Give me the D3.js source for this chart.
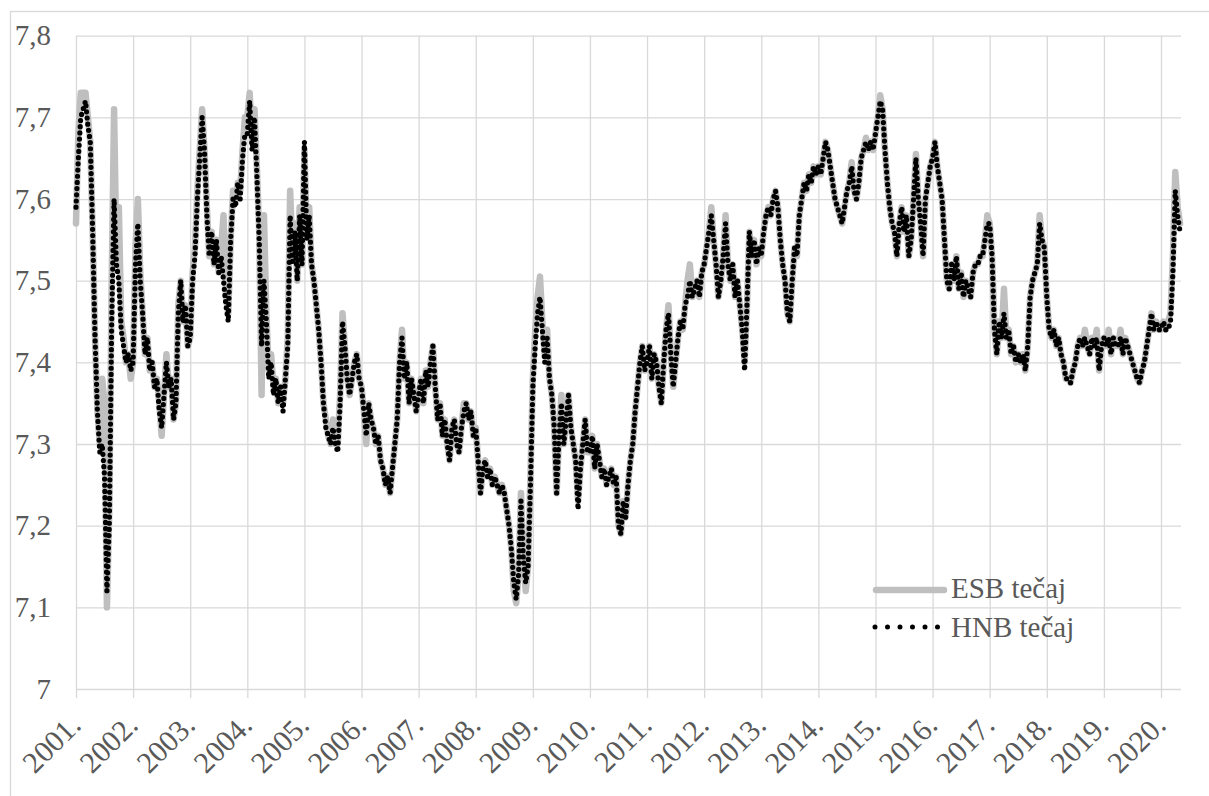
<!DOCTYPE html>
<html>
<head>
<meta charset="utf-8">
<script src="https://cdn.jsdelivr.net/npm/d3@7"></script>
<style>
  body { margin: 0; background: #fff; }
  svg { display: block; }
  text { font-family: "Liberation Serif", "Times New Roman", serif; fill: #595959; }
</style>
</head>
<body>
<svg id="chart" width="1209" height="796"></svg>
<script>
// Semi-monthly EUR/HRK observations, 24 per year starting January 2001.
const startYear = 2001;
const pointsPerYear = 24;

const yearLabels = ["2001.", "2002.", "2003.", "2004.", "2005.", "2006.", "2007.", "2008.", "2009.", "2010.",
                    "2011.", "2012.", "2013.", "2014.", "2015.", "2016.", "2017.", "2018.", "2019.", "2020."];
const yTicks = [7, 7.1, 7.2, 7.3, 7.4, 7.5, 7.6, 7.7, 7.8];
const seriesNames = ["ESB tečaj", "HNB tečaj"];

const esbRate = [
  // 2001
  7.57, 7.68, 7.73, 7.73, 7.73, 7.70, 7.67, 7.56, 7.43, 7.34, 7.30, 7.38, 7.35, 7.10, 7.22, 7.50, 7.71, 7.53, 7.59, 7.45, 7.43, 7.40, 7.41, 7.38,
  // 2002
  7.40, 7.54, 7.60, 7.51, 7.46, 7.41, 7.43, 7.39, 7.40, 7.37, 7.38, 7.35, 7.31, 7.36, 7.41, 7.37, 7.38, 7.33, 7.35, 7.47, 7.50, 7.45, 7.47, 7.42,
  // 2003
  7.43, 7.51, 7.54, 7.61, 7.66, 7.71, 7.66, 7.59, 7.53, 7.56, 7.52, 7.55, 7.51, 7.54, 7.58, 7.48, 7.46, 7.55, 7.61, 7.60, 7.62, 7.61, 7.66, 7.70,
  // 2004
  7.70, 7.73, 7.67, 7.71, 7.64, 7.56, 7.36, 7.58, 7.46, 7.39, 7.41, 7.37, 7.38, 7.35, 7.37, 7.35, 7.38, 7.43, 7.61, 7.53, 7.57, 7.50, 7.59, 7.52,
  // 2005
  7.66, 7.56, 7.59, 7.52, 7.50, 7.47, 7.44, 7.40, 7.35, 7.33, 7.31, 7.30, 7.33, 7.30, 7.30, 7.36, 7.46, 7.42, 7.38, 7.36, 7.38, 7.40, 7.41, 7.38,
  // 2006
  7.37, 7.34, 7.30, 7.35, 7.33, 7.32, 7.30, 7.31, 7.28, 7.27, 7.25, 7.26, 7.24, 7.27, 7.30, 7.33, 7.40, 7.44, 7.38, 7.40, 7.35, 7.38, 7.36, 7.34,
  // 2007
  7.36, 7.38, 7.35, 7.39, 7.37, 7.40, 7.42, 7.37, 7.33, 7.35, 7.31, 7.33, 7.30, 7.28, 7.32, 7.33, 7.30, 7.29, 7.32, 7.35, 7.35, 7.33, 7.34, 7.31,
  // 2008
  7.32, 7.28, 7.24, 7.27, 7.28, 7.26, 7.27, 7.25, 7.26, 7.25, 7.24, 7.25, 7.24, 7.22, 7.20, 7.17, 7.12, 7.105, 7.14, 7.24, 7.16, 7.12, 7.15, 7.26,
  // 2009
  7.38, 7.44, 7.48, 7.505, 7.45, 7.41, 7.44, 7.38, 7.36, 7.32, 7.24, 7.31, 7.36, 7.30, 7.33, 7.36, 7.32, 7.30, 7.28, 7.23, 7.27, 7.30, 7.33, 7.29,
  // 2010
  7.29, 7.31, 7.27, 7.30, 7.28, 7.26, 7.27, 7.25, 7.26, 7.27, 7.25, 7.26, 7.20, 7.19, 7.23, 7.21, 7.25, 7.28, 7.30, 7.34, 7.37, 7.40, 7.42, 7.39,
  // 2011
  7.40, 7.42, 7.38, 7.41, 7.40, 7.37, 7.35, 7.40, 7.44, 7.47, 7.41, 7.37, 7.40, 7.43, 7.45, 7.44, 7.47, 7.50, 7.52, 7.48, 7.49, 7.50, 7.48, 7.51,
  // 2012
  7.52, 7.54, 7.56, 7.59, 7.55, 7.52, 7.48, 7.50, 7.53, 7.58, 7.52, 7.50, 7.52, 7.48, 7.50, 7.47, 7.44, 7.40, 7.47, 7.56, 7.53, 7.55, 7.52, 7.54,
  // 2013
  7.53, 7.56, 7.58, 7.59, 7.58, 7.60, 7.61, 7.59, 7.55, 7.52, 7.50, 7.46, 7.45, 7.50, 7.54, 7.53, 7.58, 7.60, 7.62, 7.61, 7.63, 7.62, 7.64, 7.63,
  // 2014
  7.64, 7.63, 7.65, 7.67, 7.66, 7.64, 7.62, 7.60, 7.59, 7.58, 7.57, 7.59, 7.61, 7.62, 7.645, 7.61, 7.60, 7.62, 7.65, 7.66, 7.675, 7.66, 7.67, 7.66,
  // 2015
  7.68, 7.70, 7.727, 7.71, 7.66, 7.62, 7.59, 7.57, 7.56, 7.53, 7.57, 7.59, 7.56, 7.58, 7.53, 7.55, 7.60, 7.655, 7.60, 7.57, 7.53, 7.60, 7.62, 7.64,
  // 2016
  7.65, 7.67, 7.64, 7.62, 7.60, 7.55, 7.50, 7.49, 7.52, 7.50, 7.53, 7.49, 7.51, 7.48, 7.50, 7.49, 7.48, 7.51, 7.52, 7.52, 7.53, 7.53, 7.55, 7.58,
  // 2017
  7.57, 7.53, 7.44, 7.41, 7.45, 7.43, 7.49, 7.43, 7.44, 7.41, 7.42, 7.40, 7.41, 7.40, 7.41, 7.39, 7.42, 7.48, 7.50, 7.51, 7.52, 7.58, 7.55, 7.54,
  // 2018
  7.48, 7.44, 7.43, 7.44, 7.42, 7.43, 7.41, 7.40, 7.38, 7.38, 7.375, 7.39, 7.40, 7.42, 7.43, 7.42, 7.44, 7.42, 7.41, 7.43, 7.42, 7.44, 7.39, 7.42,
  // 2019
  7.43, 7.42, 7.44, 7.41, 7.43, 7.42, 7.42, 7.44, 7.41, 7.43, 7.42, 7.41, 7.40, 7.39, 7.38, 7.375, 7.39, 7.40, 7.42, 7.44, 7.46, 7.44, 7.45, 7.44,
  // 2020
  7.44, 7.45, 7.44, 7.45, 7.46, 7.53, 7.633, 7.59, 7.57
];

const hnbRate = [
  // 2001
  7.59, 7.65, 7.70, 7.71, 7.72, 7.69, 7.67, 7.56, 7.43, 7.34, 7.29, 7.30, 7.26, 7.12, 7.20, 7.45, 7.60, 7.52, 7.50, 7.44, 7.42, 7.40, 7.41, 7.39,
  // 2002
  7.40, 7.52, 7.57, 7.50, 7.46, 7.41, 7.43, 7.39, 7.40, 7.37, 7.38, 7.34, 7.32, 7.36, 7.40, 7.37, 7.38, 7.33, 7.35, 7.46, 7.50, 7.45, 7.47, 7.42,
  // 2003
  7.43, 7.50, 7.53, 7.60, 7.65, 7.70, 7.66, 7.58, 7.53, 7.56, 7.52, 7.55, 7.51, 7.53, 7.50, 7.47, 7.45, 7.55, 7.60, 7.59, 7.62, 7.60, 7.65, 7.68,
  // 2004
  7.68, 7.72, 7.66, 7.70, 7.63, 7.55, 7.42, 7.50, 7.45, 7.38, 7.40, 7.36, 7.38, 7.35, 7.37, 7.34, 7.38, 7.42, 7.58, 7.52, 7.56, 7.50, 7.58, 7.52,
  // 2005
  7.67, 7.55, 7.58, 7.52, 7.50, 7.47, 7.44, 7.40, 7.35, 7.32, 7.31, 7.30, 7.32, 7.30, 7.29, 7.35, 7.45, 7.42, 7.38, 7.36, 7.38, 7.40, 7.41, 7.38,
  // 2006
  7.37, 7.34, 7.31, 7.35, 7.33, 7.32, 7.30, 7.31, 7.28, 7.27, 7.25, 7.26, 7.24, 7.27, 7.30, 7.33, 7.40, 7.43, 7.38, 7.40, 7.35, 7.38, 7.36, 7.34,
  // 2007
  7.36, 7.38, 7.35, 7.39, 7.37, 7.40, 7.42, 7.37, 7.33, 7.35, 7.31, 7.33, 7.30, 7.28, 7.32, 7.33, 7.30, 7.29, 7.32, 7.34, 7.35, 7.33, 7.34, 7.31,
  // 2008
  7.32, 7.28, 7.24, 7.27, 7.28, 7.26, 7.27, 7.25, 7.26, 7.25, 7.24, 7.25, 7.24, 7.22, 7.20, 7.17, 7.13, 7.11, 7.14, 7.23, 7.16, 7.13, 7.15, 7.25,
  // 2009
  7.37, 7.42, 7.46, 7.48, 7.44, 7.40, 7.43, 7.38, 7.36, 7.32, 7.24, 7.31, 7.35, 7.30, 7.33, 7.36, 7.32, 7.30, 7.28, 7.22, 7.27, 7.30, 7.33, 7.29,
  // 2010
  7.29, 7.31, 7.27, 7.30, 7.28, 7.26, 7.27, 7.25, 7.26, 7.27, 7.25, 7.26, 7.20, 7.19, 7.23, 7.21, 7.25, 7.28, 7.30, 7.34, 7.37, 7.40, 7.42, 7.39,
  // 2011
  7.40, 7.42, 7.38, 7.41, 7.40, 7.37, 7.35, 7.40, 7.44, 7.46, 7.41, 7.37, 7.40, 7.43, 7.45, 7.44, 7.47, 7.48, 7.50, 7.48, 7.49, 7.50, 7.48, 7.51,
  // 2012
  7.52, 7.54, 7.56, 7.58, 7.55, 7.52, 7.48, 7.50, 7.53, 7.57, 7.52, 7.50, 7.52, 7.48, 7.50, 7.47, 7.44, 7.39, 7.47, 7.56, 7.53, 7.55, 7.52, 7.54,
  // 2013
  7.53, 7.56, 7.58, 7.59, 7.58, 7.60, 7.61, 7.59, 7.55, 7.52, 7.50, 7.46, 7.45, 7.50, 7.54, 7.53, 7.58, 7.60, 7.62, 7.61, 7.63, 7.62, 7.64, 7.63,
  // 2014
  7.64, 7.63, 7.65, 7.67, 7.66, 7.64, 7.62, 7.60, 7.59, 7.58, 7.57, 7.59, 7.61, 7.62, 7.64, 7.61, 7.60, 7.62, 7.65, 7.66, 7.67, 7.66, 7.67, 7.66,
  // 2015
  7.68, 7.70, 7.72, 7.71, 7.66, 7.62, 7.59, 7.57, 7.56, 7.53, 7.57, 7.59, 7.56, 7.58, 7.53, 7.55, 7.60, 7.65, 7.60, 7.57, 7.53, 7.60, 7.62, 7.64,
  // 2016
  7.65, 7.67, 7.64, 7.62, 7.60, 7.55, 7.50, 7.49, 7.52, 7.50, 7.53, 7.49, 7.51, 7.48, 7.50, 7.49, 7.48, 7.51, 7.52, 7.52, 7.53, 7.53, 7.55, 7.57,
  // 2017
  7.57, 7.53, 7.44, 7.41, 7.45, 7.43, 7.46, 7.43, 7.44, 7.41, 7.42, 7.40, 7.41, 7.40, 7.41, 7.39, 7.42, 7.48, 7.50, 7.51, 7.52, 7.57, 7.55, 7.54,
  // 2018
  7.48, 7.44, 7.43, 7.44, 7.42, 7.43, 7.41, 7.40, 7.38, 7.38, 7.375, 7.39, 7.40, 7.42, 7.43, 7.42, 7.43, 7.42, 7.41, 7.43, 7.42, 7.43, 7.39, 7.42,
  // 2019
  7.43, 7.42, 7.43, 7.41, 7.43, 7.42, 7.42, 7.43, 7.41, 7.43, 7.42, 7.41, 7.40, 7.39, 7.38, 7.375, 7.39, 7.40, 7.42, 7.44, 7.46, 7.44, 7.45, 7.44,
  // 2020
  7.44, 7.45, 7.44, 7.44, 7.45, 7.51, 7.61, 7.58, 7.56
];

(function drawChart() {
  // ---- layout ----
  const svg = d3.select("#chart");
  const plotLeft = 76, plotTop = 35.7, plotBottom = 689, tickBottom = 698;
  const fontSize = 29;
  const lastYear = startYear + (hnbRate.length - 1) / pointsPerYear;
  const x = d3.scaleLinear().domain([2001, 2020]).range([plotLeft, 1161]);
  const plotRight = x(lastYear) + 1;
  const y = d3.scaleLinear().domain([7, 7.8]).range([plotBottom, plotTop]);

  const hrLocale = d3.formatLocale({ decimal: ",", thousands: ".", grouping: [3], currency: ["", " kn"] });
  const fmt = hrLocale.format(".1~f");

  // outer chart frame
  svg.append("rect")
    .attr("x", 10.5).attr("y", 11.5)
    .attr("width", 1230).attr("height", 820)
    .attr("fill", "none").attr("stroke", "#d9d9d9").attr("stroke-width", 1.3);

  // horizontal gridlines + value labels
  const yAxis = svg.append("g")
    .attr("transform", `translate(${plotLeft},0)`)
    .call(d3.axisLeft(y).tickValues(yTicks).tickFormat(fmt)
      .tickSize(-(plotRight - plotLeft)).tickPadding(25));
  yAxis.select(".domain").remove();
  yAxis.attr("font-family", null).attr("font-size", null);
  yAxis.selectAll(".tick line").attr("stroke", "#d9d9d9").attr("stroke-width", 1.3);
  yAxis.selectAll(".tick text")
    .attr("font-size", fontSize).attr("fill", "#595959")
    .attr("dy", "0.32em");

  // vertical gridlines + year labels
  const years = d3.range(2001, 2021);
  const xAxis = svg.append("g")
    .attr("transform", `translate(0,${tickBottom})`)
    .call(d3.axisBottom(x).tickValues(years)
      .tickFormat((d, i) => yearLabels[i])
      .tickSize(-(tickBottom - plotTop)));
  xAxis.select(".domain").remove();
  xAxis.attr("font-family", null).attr("font-size", null);
  xAxis.selectAll(".tick line").attr("stroke", "#d9d9d9").attr("stroke-width", 1.3);
  xAxis.selectAll(".tick text")
    .attr("font-size", 30).attr("fill", "#595959")
    .attr("text-anchor", "end")
    .attr("x", 0).attr("y", 0).attr("dy", 0)
    .attr("transform", "translate(6,29) rotate(-45)");

  // series
  const toPoints = arr => arr.map((v, i) => [startYear + i / pointsPerYear, v]);
  const line = d3.line().x(d => x(d[0])).y(d => y(d[1]));

  svg.append("path")
    .datum(toPoints(esbRate))
    .attr("d", line)
    .attr("fill", "none")
    .attr("stroke", "#bfbfbf")
    .attr("stroke-width", 6.5)
    .attr("stroke-linejoin", "round")
    .attr("stroke-linecap", "round");

  svg.append("path")
    .datum(toPoints(hnbRate))
    .attr("d", line)
    .attr("fill", "none")
    .attr("stroke", "#000")
    .attr("stroke-width", 5.2)
    .attr("stroke-linecap", "round")
    .attr("stroke-dasharray", "0 6.2");

  // legend
  const legend = svg.append("g");
  legend.append("line")
    .attr("x1", 876).attr("x2", 944).attr("y1", 590).attr("y2", 590)
    .attr("stroke", "#bfbfbf").attr("stroke-width", 6.5).attr("stroke-linecap", "round");
  legend.append("line")
    .attr("x1", 875).attr("x2", 940).attr("y1", 627).attr("y2", 627)
    .attr("stroke", "#000").attr("stroke-width", 5)
    .attr("stroke-linecap", "round").attr("stroke-dasharray", "0 12.5");
  legend.selectAll("text.lbl")
    .data(seriesNames)
    .join("text")
    .attr("class", "lbl")
    .attr("x", 951)
    .attr("y", (d, i) => 598 + i * 39)
    .attr("font-size", fontSize)
    .text(d => d);
})();
</script>
</body>
</html>
